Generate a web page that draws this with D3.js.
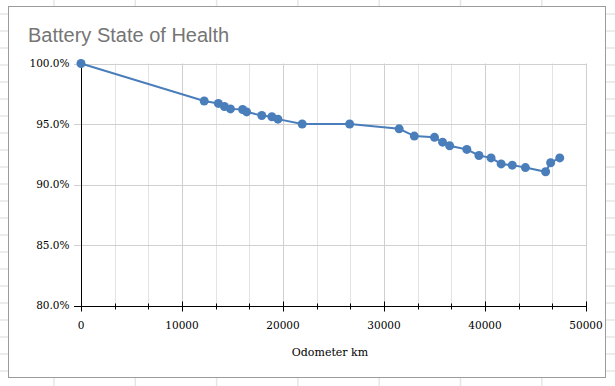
<!DOCTYPE html>
<html>
<head>
<meta charset="utf-8">
<script src="https://cdnjs.cloudflare.com/ajax/libs/d3/7.8.5/d3.min.js"></script>
<style>
  body { margin: 0; background: #fff; }
  svg { display: block; }
</style>
</head>
<body>
<svg width="615" height="386"></svg>
<script>
// odometer readings (km) and state of health (%)
var odometer = [0, 12200, 13600, 14200, 14800, 16000, 16400, 17900, 18900, 19500, 21900, 26600,
    31500, 33000, 35000, 35800, 36500, 38200, 39400, 40600, 41600, 42700, 44000, 46000, 46500, 47400];
var health = [100.0, 96.9, 96.7, 96.45, 96.25, 96.2, 96.0, 95.7, 95.6, 95.4, 95.0, 95.0,
    94.6, 94.0, 93.9, 93.5, 93.2, 92.9, 92.4, 92.2, 91.7, 91.6, 91.4, 91.05, 91.8, 92.2];
var xTicks = [0, 10000, 20000, 30000, 40000, 50000];
var yTicks = [80, 85, 90, 95, 100];

var svg = d3.select("svg"),
    width = +svg.attr("width"),
    height = +svg.attr("height");

var points = odometer.map(function(d, i) { return {km: d, soh: health[i]}; });

// spreadsheet cells behind the chart
var sheet = svg.append("g");
sheet.selectAll("line.row")
    .data(d3.range(14, height, 17))
    .enter().append("line")
    .attr("x1", 0).attr("x2", width)
    .attr("y1", function(d) { return d; }).attr("y2", function(d) { return d; })
    .attr("stroke", "#e6e6e6").attr("stroke-width", 1.5);
sheet.selectAll("line.col")
    .data(d3.range(54, width, 81.3))
    .enter().append("line")
    .attr("y1", 0).attr("y2", height)
    .attr("x1", function(d) { return d; }).attr("x2", function(d) { return d; })
    .attr("stroke", "#e6e6e6").attr("stroke-width", 1.5);

// chart box
svg.append("rect")
    .attr("x", 8.5).attr("y", 6.5)
    .attr("width", 597).attr("height", 371)
    .attr("fill", "#fff")
    .attr("stroke", "#9b9b9b");

svg.append("text")
    .attr("x", 28).attr("y", 42)
    .attr("font-family", "Liberation Sans, Arial, sans-serif")
    .attr("font-size", 20)
    .attr("fill", "#757575")
    .text("Battery State of Health");

var x = d3.scaleLinear().domain([0, 50000]).range([81, 586]),
    y = d3.scaleLinear().domain([80, 100]).range([305.5, 63.5]);

var minor = d3.range(0, 50001, 10000 / 3);

// gridlines
var grid = svg.append("g");
grid.selectAll("line.vx")
    .data(minor.slice(1))
    .enter().append("line")
    .attr("x1", function(d) { return Math.round(x(d)) + 0.5; })
    .attr("x2", function(d) { return Math.round(x(d)) + 0.5; })
    .attr("y1", y(100)).attr("y2", y(80))
    .attr("stroke", function(d, i) { return (i + 1) % 3 === 0 ? "#cfcfcf" : "#e3e3e3"; });
grid.selectAll("line.hy")
    .data(yTicks.slice(1))
    .enter().append("line")
    .attr("x1", 74).attr("x2", x(50000))
    .attr("y1", function(d) { return Math.round(y(d)) + 0.5; })
    .attr("y2", function(d) { return Math.round(y(d)) + 0.5; })
    .attr("stroke", "#d0d0d0");

var tickFont = "DejaVu Serif, serif";

// y axis
var yAxis = svg.append("g")
    .attr("transform", "translate(" + (Math.round(x(0)) + 0.5) + ",0)")
    .call(d3.axisLeft(y).tickValues(yTicks).tickSize(0).tickPadding(12)
        .tickFormat(function(d) { return d.toFixed(1) + "%"; }));
yAxis.select(".domain").attr("stroke", "#000").attr("d", "M0," + y(100) + "V" + y(80));
yAxis.selectAll("text").attr("font-family", tickFont).attr("font-size", 10.5).attr("fill", "#000");

// x axis
var xAxis = svg.append("g")
    .attr("transform", "translate(0," + (Math.round(y(80)) + 0.5) + ")");
xAxis.append("line")
    .attr("x1", 74).attr("x2", x(50000))
    .attr("stroke", "#000");
xAxis.selectAll("line.tick")
    .data(minor)
    .enter().append("line")
    .attr("x1", function(d) { return Math.round(x(d)) + 0.5; })
    .attr("x2", function(d) { return Math.round(x(d)) + 0.5; })
    .attr("y1", function(d, i) { return i % 3 === 0 ? -5 : -3; })
    .attr("y2", function(d, i) { return i % 3 === 0 ? 5 : 3; })
    .attr("stroke", "#000");
xAxis.selectAll("text")
    .data(xTicks)
    .enter().append("text")
    .attr("x", function(d) { return x(d); })
    .attr("y", 22)
    .attr("text-anchor", "middle")
    .attr("font-family", tickFont).attr("font-size", 10.5)
    .text(function(d) { return d; });

svg.append("text")
    .attr("x", 330).attr("y", 356)
    .attr("text-anchor", "middle")
    .attr("font-family", tickFont).attr("font-size", 11)
    .text("Odometer km");

// series
var line = d3.line()
    .x(function(d) { return x(d.km); })
    .y(function(d) { return y(d.soh); });

svg.append("path")
    .datum(points)
    .attr("d", line)
    .attr("fill", "none")
    .attr("stroke", "#4a7ebb")
    .attr("stroke-width", 2);

svg.selectAll("circle.pt")
    .data(points)
    .enter().append("circle")
    .attr("cx", function(d) { return x(d.km); })
    .attr("cy", function(d) { return y(d.soh); })
    .attr("r", 4.5)
    .attr("fill", "#4a7ebb");
</script>
</body>
</html>
